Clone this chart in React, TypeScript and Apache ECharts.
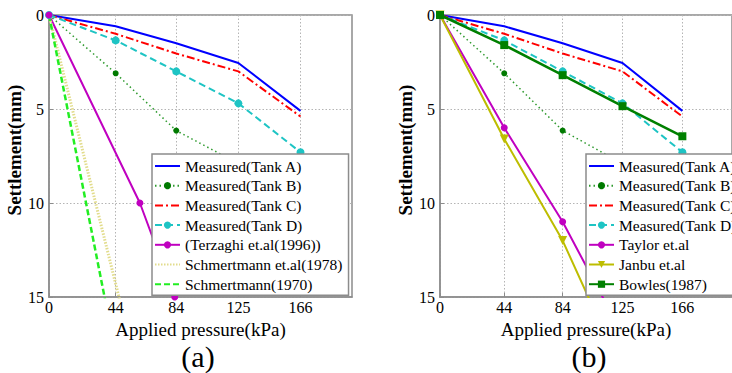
import React, { useEffect, useRef } from "react";
import * as echarts from "echarts";

// ---- data ----
const pressures = [0, 44, 84, 125, 166];
const tankA = [0, 0.6, 1.5, 2.55, 5.1];
const tankB = [0, 3.1, 6.15, 7.9, 9.2];
const tankC = [0, 1.0, 2.05, 3.0, 5.4];
const tankD = [0, 1.35, 3.0, 4.7, 7.3];
const terzaghiX = [0, 60, 83];
const terzaghiY = [0, 10, 15];
const schm1978 = [0, 14.3, 27.5];
const schm1970 = [0, 18, 34];
const taylor = [0, 6.0, 11.0, 17.0];
const janbu = [0, 6.6, 12.0, 19.0];
const bowles = [0, 1.6, 3.2, 4.85, 6.45];
const xTickValues = [0, 44, 84, 125, 166];
const legendA = [
  "Measured(Tank A)",
  "Measured(Tank B)",
  "Measured(Tank C)",
  "Measured(Tank D)",
  "(Terzaghi et.al(1996))",
  "Schmertmann et.al(1978)",
  "Schmertmann(1970)",
];
const legendB = [
  "Measured(Tank A)",
  "Measured(Tank B)",
  "Measured(Tank C)",
  "Measured(Tank D)",
  "Taylor et.al",
  "Janbu et.al",
  "Bowles(1987)",
];
const noMarkerNames = ["Measured(Tank A)", "Measured(Tank C)", "Schmertmann et.al(1978)", "Schmertmann(1970)"];

const FONT = "Liberation Serif";

const zip = (xs: number[], ys: number[]) => ys.map((y, i) => [xs[i], y]);

function measuredSeries(gi: number) {
  return [
    {
      name: "Measured(Tank A)", type: "line", xAxisIndex: gi, yAxisIndex: gi,
      data: zip(pressures, tankA), symbol: "none",
      lineStyle: { color: "#0000ff", width: 2 }, itemStyle: { color: "#0000ff" },
    },
    {
      name: "Measured(Tank B)", type: "line", xAxisIndex: gi, yAxisIndex: gi,
      data: zip(pressures, tankB), symbol: "circle", symbolSize: 6,
      lineStyle: { color: "#2e9a2e", width: 1.5, type: [1.5, 3] }, itemStyle: { color: "#007a00" },
    },
    {
      name: "Measured(Tank C)", type: "line", xAxisIndex: gi, yAxisIndex: gi,
      data: zip(pressures, tankC), symbol: "none",
      lineStyle: { color: "#ff0000", width: 2, type: [8, 3, 2, 3] }, itemStyle: { color: "#ff0000" },
    },
    {
      name: "Measured(Tank D)", type: "line", xAxisIndex: gi, yAxisIndex: gi,
      data: zip(pressures, tankD), symbol: "circle", symbolSize: 8,
      lineStyle: { color: "#1ec4c4", width: 2, type: [7, 4] }, itemStyle: { color: "#1ec4c4" },
    },
  ];
}

export default function App() {
  const ref = useRef<HTMLDivElement>(null);
  useEffect(() => {
    const chart = echarts.init(ref.current!, null, { renderer: "svg" });
    const axisBase = {
      axisLine: { show: true, onZero: false, lineStyle: { color: "#8c8c8c", width: 1.5 } },
      axisTick: { show: true, inside: true, length: 4, lineStyle: { color: "#8c8c8c" } },
      axisLabel: { color: "#000", fontFamily: FONT, fontSize: 16 },
      splitLine: { show: true, lineStyle: { color: "#b4b4b4", type: [1.5, 2], width: 1 } },
      nameTextStyle: { color: "#000", fontFamily: FONT, fontSize: 19 },
    };
    const xAxisFor = (gi: number) => ({
      ...axisBase,
      type: "value", gridIndex: gi, min: 0, max: 200,
      name: "Applied pressure(kPa)", nameLocation: "middle", nameGap: 17,
      axisTick: { ...axisBase.axisTick, customValues: xTickValues },
      axisLabel: { ...axisBase.axisLabel, customValues: xTickValues, margin: 2 },
    });
    const yAxisFor = (gi: number) => ({
      ...axisBase,
      type: "value", gridIndex: gi, min: 0, max: 15, interval: 5, inverse: true,
      name: "Settlement(mm)", nameLocation: "middle", nameGap: 23,
      nameTextStyle: { ...axisBase.nameTextStyle, fontWeight: "bold", padding: [0, 0, 0, 12] },
      axisLabel: { ...axisBase.axisLabel, margin: 5 },
    });
    const legendFor = (left: number, names: string[]) => ({
      orient: "vertical", left, top: 154,
      data: names.map((n) =>
        noMarkerNames.includes(n)
          ? { name: n, itemStyle: { color: "rgba(0,0,0,0)", borderColor: "rgba(0,0,0,0)", borderWidth: 0 } }
          : { name: n }
      ),
      itemWidth: 25, itemHeight: 9, itemGap: 3.7,
      padding: [4, 6, 3, 2],
      backgroundColor: "#fff", borderColor: "#8c8c8c", borderWidth: 1.5, borderRadius: 0,
      textStyle: { color: "#000", fontFamily: FONT, fontSize: 15.5 },
      selectedMode: false,
    });
    chart.setOption({
      animation: false,
      grid: [
        { left: 49, top: 15, width: 303, height: 282, show: true, borderColor: "#8c8c8c", borderWidth: 1.5, containLabel: false },
        { left: 440, top: 15, width: 301, height: 282, show: true, borderColor: "#8c8c8c", borderWidth: 1.5, containLabel: false },
      ],
      xAxis: [xAxisFor(0), xAxisFor(1)],
      yAxis: [yAxisFor(0), yAxisFor(1)],
      legend: [legendFor(152, legendA), legendFor(586, legendB)],
      series: [
        ...measuredSeries(0),
        {
          name: "(Terzaghi et.al(1996))", type: "line", xAxisIndex: 0, yAxisIndex: 0,
          data: zip(terzaghiX, terzaghiY), symbol: "circle", symbolSize: 7,
          lineStyle: { color: "#c000c0", width: 2 }, itemStyle: { color: "#c000c0" },
        },
        {
          name: "Schmertmann et.al(1978)", type: "line", xAxisIndex: 0, yAxisIndex: 0,
          data: zip(pressures, schm1978), symbol: "none",
          lineStyle: { color: "#e2dc8c", width: 3, type: [1.5, 1.5] }, itemStyle: { color: "#e2dc8c" },
        },
        {
          name: "Schmertmann(1970)", type: "line", xAxisIndex: 0, yAxisIndex: 0,
          data: zip(pressures, schm1970), symbol: "none",
          lineStyle: { color: "#22ee22", width: 2.5, type: [6, 3] }, itemStyle: { color: "#22ee22" },
        },
        ...measuredSeries(1),
        {
          name: "Taylor et.al", type: "line", xAxisIndex: 1, yAxisIndex: 1,
          data: zip(pressures, taylor), symbol: "circle", symbolSize: 7,
          lineStyle: { color: "#c000c0", width: 2 }, itemStyle: { color: "#c000c0" },
        },
        {
          name: "Janbu et.al", type: "line", xAxisIndex: 1, yAxisIndex: 1,
          data: zip(pressures, janbu), symbol: "triangle", symbolRotate: 180, symbolSize: 9,
          lineStyle: { color: "#bdbd00", width: 2 }, itemStyle: { color: "#bdbd00" },
        },
        {
          name: "Bowles(1987)", type: "line", xAxisIndex: 1, yAxisIndex: 1,
          data: zip(pressures, bowles), symbol: "rect", symbolSize: 8,
          lineStyle: { color: "#008000", width: 2.5 }, itemStyle: { color: "#008000" },
        },
      ],
      graphic: [
        { type: "text", x: 198, y: 356, style: { text: "(a)", font: "30px 'Liberation Serif'", fill: "#000", align: "center", verticalAlign: "middle" } },
        { type: "text", x: 589, y: 356, style: { text: "(b)", font: "30px 'Liberation Serif'", fill: "#000", align: "center", verticalAlign: "middle" } },
      ],
    });
    return () => chart.dispose();
  }, []);
  return <div ref={ref} style={{ position: "fixed", left: 0, top: 0, width: 732, height: 373, background: "#fff" }} />;
}
